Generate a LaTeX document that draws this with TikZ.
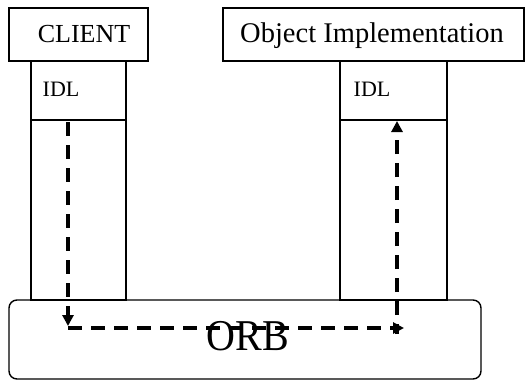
\documentclass[tikz,border=0pt]{standalone}
\usepackage{fontspec}
\setmainfont{Liberation Serif}
\usetikzlibrary{arrows.meta}

\tikzset{
  box/.style={draw, line width=1.4pt, inner sep=0pt},
  label/.style={inner sep=0pt, anchor=center},
  flow/.style={line width=3.4pt, dash pattern=on 14pt off 9pt},
  tip/.style={-{Triangle[length=11pt,width=11pt]}},
}

\begin{document}
\begin{tikzpicture}[x=1pt, y=-1pt]
  \useasboundingbox (0,0) rectangle (526,381);

  % header boxes
  \node[box, minimum width=139pt, minimum height=53pt] (client) at (78.5,34.5) {};
  \node[label, font=\fontsize{26}{26}\selectfont] (clienttxt) at (84,34) {CLIENT};
  \node[box, minimum width=301pt, minimum height=53pt] (impl) at (373.5,34.5) {};
  \node[label, font=\fontsize{28.5}{28.5}\selectfont] (impltxt) at (372,36) {Object Implementation};

  % stub columns with their IDL compartments
  \node[box, minimum width=95pt, minimum height=59pt] (cidl) at (78.5,90.5) {};
  \node[box, minimum width=95pt, minimum height=180pt] (cstub) at (78.5,210) {};
  \node[box, minimum width=107pt, minimum height=59pt] (oidl) at (393.5,90.5) {};
  \node[box, minimum width=107pt, minimum height=180pt] (ostub) at (393.5,210) {};
  \node[label, font=\fontsize{22}{22}\selectfont] (cidltxt) at (61,89) {IDL};
  \node[label, font=\fontsize{22}{22}\selectfont] (oidltxt) at (372,89) {IDL};

  % ORB bar
  \node[box, rounded corners=8pt, minimum width=472pt, minimum height=79pt] (orb) at (245,339.5) {};

  % request path through the ORB
  \coordinate (a1) at (68,122);
  \coordinate (a2) at (68,326);
  \coordinate (b1) at (68,328);
  \coordinate (b2) at (404,328);
  \coordinate (c1) at (397,334);
  \coordinate (c2) at (397,121);
  \draw[flow, tip] (a1) -- (a2);
  \draw[flow, tip] (b1) -- (b2);
  \draw[flow, tip, dash phase=4pt] (c1) -- (c2);

  \node[label, font=\fontsize{40}{40}\selectfont, yscale=1.1] (orbtxt) at (248,336) {ORB};
\end{tikzpicture}
\end{document}
